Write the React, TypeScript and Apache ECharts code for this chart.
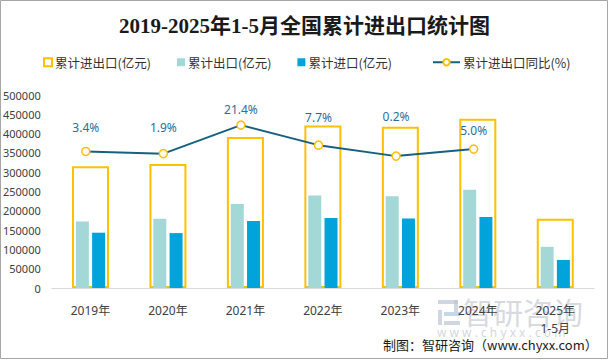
import React, { useEffect, useRef } from "react";
import * as echarts from "echarts";

const categories = ["2019年", "2020年", "2021年", "2022年", "2023年", "2024年", "2025年\n1-5月"];
const totalValues = [315627, 321557, 391009, 420678, 417568, 438468, 179400];
const exportValues = [172374, 179326, 217348, 239654, 237726, 254545, 106700];
const importValues = [143254, 142231, 173661, 181024, 179842, 183923, 72700];
const growthValues: (number | null)[] = [3.4, 1.9, 21.4, 7.7, 0.2, 5.0, null];
const yTicks = { min: 0, max: 500000, interval: 50000 };

// label nudges (style only)
const growthLabelNudge = [-8, -10, 0, -12, -24, -3, 0];

export default function App() {
  const ref = useRef<HTMLDivElement>(null);
  useEffect(() => {
    document.body.style.margin = "0";
    const chart = echarts.init(ref.current!, undefined, { renderer: "svg" });
    const axisLabel = { color: "#404040", fontSize: 11, fontFamily: "'Noto Sans', 'Noto Sans CJK SC', sans-serif" };
    chart.setOption({
      animation: false,
      backgroundColor: "#ffffff",
      title: {
        text: "2019-2025年1-5月全国累计进出口统计图",
        left: "center",
        top: 10,
        textStyle: {
          fontSize: 21,
          fontWeight: "bold",
          color: "#1a1a1a",
          fontFamily: "'Liberation Serif', 'Noto Sans CJK SC', serif",
        },
      },
      legend: [
        {
          left: 38,
          top: 51,
          itemWidth: 8,
          itemHeight: 8,
          itemGap: 26,
          textStyle: { fontSize: 12.5, color: "#333", fontFamily: "'Noto Sans CJK SC', sans-serif", padding: [0, 0, 0, -2] },
          data: [
            { name: "累计进出口(亿元)", icon: "rect", itemStyle: { color: "#ffffff", borderColor: "#FFC000", borderWidth: 2 } },
            { name: "累计出口(亿元)", icon: "rect" },
            { name: "累计进口(亿元)", icon: "rect" },
          ],
        },
        {
          left: 427,
          top: 51,
          itemWidth: 27,
          itemHeight: 8,
          textStyle: { fontSize: 12.5, color: "#333", fontFamily: "'Noto Sans CJK SC', sans-serif", padding: [0, 0, 0, -2] },
          data: [{ name: "累计进出口同比(%)" }],
        },
      ],
      grid: [
        { left: 51, right: 15, top: 95, bottom: 72 },
        { left: 47, right: 19, top: 95, bottom: 72 },
      ],
      xAxis: [
        {
          type: "category",
          data: categories,
          gridIndex: 0,
          axisLine: { lineStyle: { color: "#D9D9D9", width: 1 } },
          axisTick: { show: false },
          axisLabel: { ...axisLabel, fontSize: 12, margin: 13, lineHeight: 18 },
        },
        { type: "category", data: categories, gridIndex: 0, show: false },
        { type: "category", data: categories, gridIndex: 1, show: false },
      ],
      yAxis: [
        {
          type: "value",
          gridIndex: 0,
          min: yTicks.min,
          max: yTicks.max,
          interval: yTicks.interval,
          axisLine: { show: false },
          axisTick: { show: false },
          splitLine: { show: false },
          axisLabel: { ...axisLabel, margin: 11, formatter: (v: number) => String(v) },
        },
        {
          type: "value",
          gridIndex: 1,
          min: -90,
          max: 42,
          show: false,
          splitLine: { show: false },
        },
      ],
      series: [
        {
          name: "累计进出口(亿元)",
          type: "bar",
          xAxisIndex: 0,
          yAxisIndex: 0,
          data: totalValues,
          barWidth: 37,
          itemStyle: { color: "rgba(255,255,255,0)", borderColor: "#FFC000", borderWidth: 2 },
          z: 1,
        },
        {
          name: "累计出口(亿元)",
          type: "bar",
          xAxisIndex: 1,
          yAxisIndex: 0,
          data: exportValues,
          barWidth: 13,
          barGap: "25%",
          itemStyle: { color: "#A3D8D6" },
          z: 2,
        },
        {
          name: "累计进口(亿元)",
          type: "bar",
          xAxisIndex: 1,
          yAxisIndex: 0,
          data: importValues,
          barWidth: 13,
          barGap: "25%",
          itemStyle: { color: "#00A3DA" },
          z: 2,
        },
        {
          name: "累计进出口同比(%)",
          type: "line",
          xAxisIndex: 2,
          yAxisIndex: 1,
          data: growthValues.map((v, i) => ({
            value: v,
            label: { offset: [0, growthLabelNudge[i]] },
          })),
          symbol: "circle",
          symbolSize: 8,
          showAllSymbol: true,
          lineStyle: { color: "#17607F", width: 2 },
          itemStyle: { color: "#ffffff", borderColor: "#FFC000", borderWidth: 1.5 },
          label: {
            show: true,
            position: "top",
            distance: 5,
            formatter: (p: any) => (p.value == null ? "" : p.value.toFixed(1) + "%"),
            color: "#2A6E9C",
            fontSize: 12,
            fontFamily: "'Noto Sans', sans-serif",
          },
          z: 5,
        },
      ],
      graphic: [
        {
          type: "rect",
          shape: { x: 0.5, y: 0.5, width: 607, height: 358 },
          style: { fill: "none", stroke: "#A6A6A6", lineWidth: 1 },
          silent: true,
          z: 0,
        },
        {
          type: "group",
          z: 10,
          silent: true,
          children: [
            { type: "rect", shape: { x: 438, y: 300, width: 20, height: 4 }, style: { fill: "rgba(190,198,212,0.7)" } },
            { type: "rect", shape: { x: 454, y: 300, width: 4, height: 12 }, style: { fill: "rgba(190,198,212,0.7)" } },
            { type: "rect", shape: { x: 438, y: 310, width: 4, height: 15 }, style: { fill: "rgba(190,198,212,0.7)" } },
            { type: "rect", shape: { x: 444, y: 312, width: 16, height: 4 }, style: { fill: "rgba(170,200,230,0.7)" } },
            { type: "rect", shape: { x: 444, y: 321, width: 16, height: 4 }, style: { fill: "rgba(190,198,212,0.7)" } },
            {
              type: "text",
              left: 463,
              top: 296,
              style: {
                text: "智研咨询",
                fontSize: 30,
                fill: "rgba(180,186,198,0.55)",
                fontFamily: "'Noto Sans CJK SC', sans-serif",
              },
            },
            {
              type: "text",
              left: 437,
              top: 326,
              style: {
                text: "w w w . c h y x x . c o m",
                fontSize: 12,
                fill: "rgba(180,186,198,0.6)",
                fontFamily: "'Noto Sans', sans-serif",
              },
            },
          ],
        },
        {
          type: "text",
          left: 383,
          top: 338,
          z: 11,
          style: {
            text: "制图：智研咨询（www.chyxx.com）",
            fontSize: 13,
            fill: "#1a1a1a",
            fontFamily: "'Noto Sans CJK SC', sans-serif",
          },
        },
      ],
    });
    return () => chart.dispose();
  }, []);
  return <div ref={ref} style={{ width: 609, height: 360 }} />;
}
